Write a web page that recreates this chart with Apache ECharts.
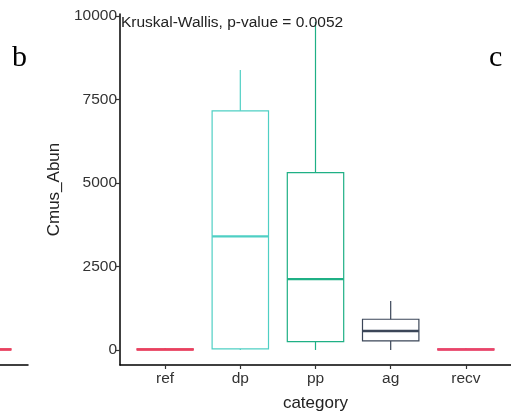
<!DOCTYPE html>
<html>
<head>
<meta charset="utf-8">
<script src="https://cdn.jsdelivr.net/npm/echarts@6/dist/echarts.min.js"></script>
<style>
  html, body { margin: 0; padding: 0; background: #fff; }
  #chart { width: 511px; height: 412px; }
</style>
</head>
<body>
<div id="chart"></div>
<script>
// Groups along the x axis
const categories = ['ref', 'dp', 'pp', 'ag', 'recv'];
// Box statistics per group: [min, Q1, median, Q3, max]
const boxMin    = [0,    0,    0,    0,    0];
const boxQ1     = [5,   30,  250,  270,    5];
const boxMedian = [15, 3400, 2120,  570,   15];
const boxQ3     = [30, 7160, 5310,  920,   30];
const boxMax    = [60, 8380, 9820, 1470,   60];
const boxColors = ['#e8415f', '#4fcfc4', '#1fb085', '#3b4658', '#e8456a'];
// Tick values on the abundance axis
const yTicks = [0, 2500, 5000, 7500, 10000];
// Last box of the neighbouring panel: [position, min, Q1, median, Q3, max]
const neighbourBox = [5, 0, 5, 15, 30, 60];

const font = 'Liberation Sans, Arial, sans-serif';

const boxData = categories.map((c, i) =>
  [i + 1, boxMin[i], boxQ1[i], boxMedian[i], boxQ3[i], boxMax[i]]);

function renderBox(colorOf) {
  return function (params, api) {
    const x = api.value(0);
    const lo = api.value(1), q1 = api.value(2), med = api.value(3),
          q3 = api.value(4), hi = api.value(5);
    const half = 0.375;
    const pL = api.coord([x - half, q3]);
    const pR = api.coord([x + half, q1]);
    const pMedL = api.coord([x - half, med]);
    const pMedR = api.coord([x + half, med]);
    const pHi = api.coord([x, hi]);
    const pQ3 = api.coord([x, q3]);
    const pQ1 = api.coord([x, q1]);
    const pLo = api.coord([x, lo]);
    const color = colorOf(params.dataIndex);
    const lineStyle = { stroke: color, lineWidth: 1.2, fill: null };
    return {
      type: 'group',
      children: [
        { type: 'line', shape: { x1: pHi[0], y1: pHi[1], x2: pQ3[0], y2: pQ3[1] }, style: lineStyle },
        { type: 'line', shape: { x1: pQ1[0], y1: pQ1[1], x2: pLo[0], y2: pLo[1] }, style: lineStyle },
        { type: 'rect', shape: { x: pL[0], y: pL[1], width: pR[0] - pL[0], height: pR[1] - pL[1] },
          style: { stroke: color, lineWidth: 1.2, fill: 'rgba(255,255,255,0)' } },
        { type: 'line', shape: { x1: pMedL[0], y1: pMedL[1], x2: pMedR[0], y2: pMedR[1] },
          style: { stroke: color, lineWidth: 2.4 } }
      ]
    };
  };
}

const chart = echarts.init(document.getElementById('chart'), null, { renderer: 'canvas' });

chart.setOption({
  animation: false,
  backgroundColor: '#ffffff',
  grid: [
    { left: 120, right: 0, top: 14, bottom: 47, containLabel: false, outerBoundsMode: 'none' },
    // sliver of the neighbouring panel at the left edge
    { left: 0, width: 28, top: 14, bottom: 47, containLabel: false, outerBoundsMode: 'none' }
  ],
  xAxis: [
    {
      type: 'value', gridIndex: 0, min: 0.4, max: 5.6,
      splitLine: { show: false },
      axisLine: { show: true, onZero: false, lineStyle: { color: '#000', width: 1.5 } },
      axisTick: { show: true, length: 4, customValues: [1, 2, 3, 4, 5], lineStyle: { color: '#333', width: 1.2 } },
      axisLabel: {
        customValues: [1, 2, 3, 4, 5],
        formatter: v => categories[Math.round(v) - 1] || '',
        color: '#333', fontFamily: font, fontSize: 15.5, margin: 6
      },
      name: 'category', nameLocation: 'middle', nameGap: 30,
      nameTextStyle: { color: '#222', fontFamily: font, fontSize: 17 }
    },
    {
      type: 'value', gridIndex: 1, min: 5.6 - 28 / 75.2, max: 5.6,
      splitLine: { show: false },
      axisLine: { show: true, onZero: false, lineStyle: { color: '#000', width: 1.5 } },
      axisTick: { show: false },
      axisLabel: { show: false }
    }
  ],
  yAxis: [
    {
      type: 'value', gridIndex: 0, min: -450, max: 10060,
      splitLine: { show: false },
      axisLine: { show: true, onZero: false, lineStyle: { color: '#000', width: 1.5 } },
      axisTick: { show: true, length: 4, customValues: yTicks, lineStyle: { color: '#333', width: 1.2 } },
      axisLabel: {
        customValues: yTicks, formatter: v => String(v),
        color: '#333', fontFamily: font, fontSize: 15.5, margin: 3
      },
      name: 'Cmus_Abun', nameLocation: 'middle', nameGap: 57, nameRotate: 90,
      nameTextStyle: { color: '#222', fontFamily: font, fontSize: 17 }
    },
    {
      type: 'value', gridIndex: 1, min: -450, max: 10060,
      splitLine: { show: false },
      axisLine: { show: false },
      axisTick: { show: false },
      axisLabel: { show: false }
    }
  ],
  series: [
    {
      type: 'custom',
      xAxisIndex: 0, yAxisIndex: 0,
      renderItem: renderBox(i => boxColors[i]),
      encode: { x: 0, y: [1, 2, 3, 4, 5] },
      data: boxData,
      z: 2
    },
    {
      type: 'custom',
      xAxisIndex: 1, yAxisIndex: 1,
      renderItem: renderBox(() => '#e8415f'),
      encode: { x: 0, y: [1, 2, 3, 4, 5] },
      data: [neighbourBox],
      clip: true,
      z: 2
    }
  ],
  graphic: [
    {
      type: 'text', left: 121, top: 15, z: 10,
      style: { text: 'Kruskal-Wallis, p-value = 0.0052', fill: '#222', font: '15.5px ' + font }
    },
    {
      type: 'text', left: 12, top: 43, z: 10,
      style: { text: 'b', fill: '#000', font: '30px "Liberation Serif", "Times New Roman", serif' }
    },
    {
      type: 'text', left: 489, top: 43, z: 10,
      style: { text: 'c', fill: '#000', font: '30px "Liberation Serif", "Times New Roman", serif' }
    }
  ]
});
</script>
</body>
</html>
